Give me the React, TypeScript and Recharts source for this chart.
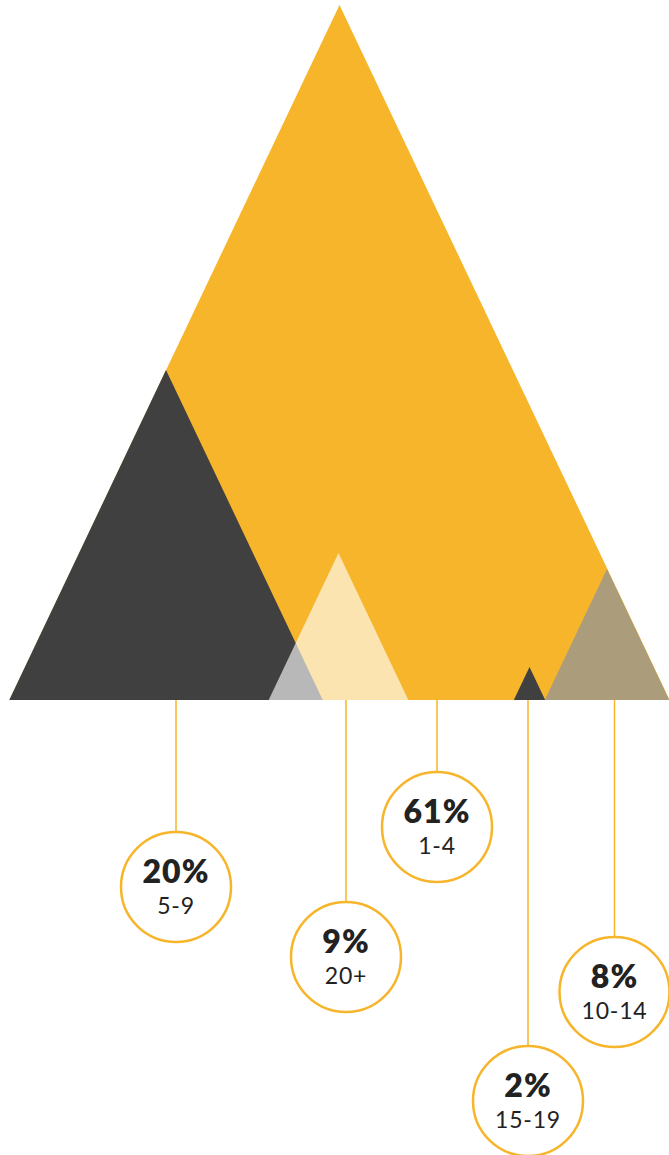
import React from 'react';
import { ComposedChart, Area, Scatter, XAxis, YAxis, ReferenceLine } from 'recharts';

// Age groups (categories) and their shares
const groups = ['1-4', '5-9', '20+', '15-19', '10-14'];
const shares = [61, 20, 9, 2, 8];
// Triangle peaks: centre position and height (chart units)
const peakX = [339.5, 166, 338.5, 529.5, 607];
const peakH = [695, 330, 147, 33, 131];
// Bubble (label) positions
const bubbleX = [437, 176, 346, 528, 614.5];
const bubbleY = [-127, -187, -257, -401, -292];

const SLOPE = 0.475;
const BUBBLE_R = 55;
const fills = ['#F7B52B', '#404040', '#FFFFFF', '#404040', '#AB9D7C'];
const fillOpacities = [1, 1, 0.63, 1, 1];
const YELLOW = '#F7B52B';

const triangles = groups.map((g, i) => [
  { x: peakX[i] - peakH[i] * SLOPE, y: 0 },
  { x: peakX[i], y: peakH[i] },
  { x: peakX[i] + peakH[i] * SLOPE, y: 0 },
]);

const bubbles = groups.map((g, i) => ({
  x: bubbleX[i],
  y: bubbleY[i],
  pct: shares[i],
  label: g,
}));

const Bubble = (props: any) => {
  const { cx, cy, payload } = props;
  if (cx == null || cy == null) return null;
  return (
    <g>
      <circle cx={cx} cy={cy} r={BUBBLE_R} fill="#FFFFFF" stroke={YELLOW} strokeWidth={2.5} />
      <text
        x={cx}
        y={cy - 4}
        textAnchor="middle"
        fontFamily="Lato, 'Open Sans', sans-serif"
        fontWeight={800}
        fontSize={32}
        letterSpacing={1}
        fill="#222222"
      >
        {payload.pct}%
      </text>
      <text
        x={cx}
        y={cy + 27}
        textAnchor="middle"
        fontFamily="Lato, 'Open Sans', sans-serif"
        fontWeight={400}
        fontSize={23}
        letterSpacing={0.8}
        fill="#222222"
      >
        {payload.label}
      </text>
    </g>
  );
};

export default function App() {
  return (
    <div style={{ position: 'absolute', left: 0, top: 0, width: 669, height: 1155, background: '#FFFFFF' }}>
      <ComposedChart width={669} height={1155} margin={{ top: 0, right: 0, bottom: 0, left: 0 }}>
        <XAxis type="number" dataKey="x" domain={[0, 669]} hide allowDataOverflow />
        <YAxis type="number" dataKey="y" domain={[-455, 700]} hide allowDataOverflow />
        {triangles.map((d, i) => (
          <Area
            key={groups[i]}
            data={d}
            dataKey="y"
            type="linear"
            baseValue={0}
            stroke="none"
            fill={fills[i]}
            fillOpacity={fillOpacities[i]}
            isAnimationActive={false}
            dot={false}
            activeDot={false}
          />
        ))}
        {bubbles.map((b) => (
          <ReferenceLine
            key={'l' + b.label}
            segment={[
              { x: b.x, y: 0 },
              { x: b.x, y: b.y + BUBBLE_R },
            ]}
            stroke={YELLOW}
            strokeWidth={1.5}
            ifOverflow="visible"
          />
        ))}
        <Scatter data={bubbles} dataKey="y" shape={<Bubble />} isAnimationActive={false} />
      </ComposedChart>
    </div>
  );
}
